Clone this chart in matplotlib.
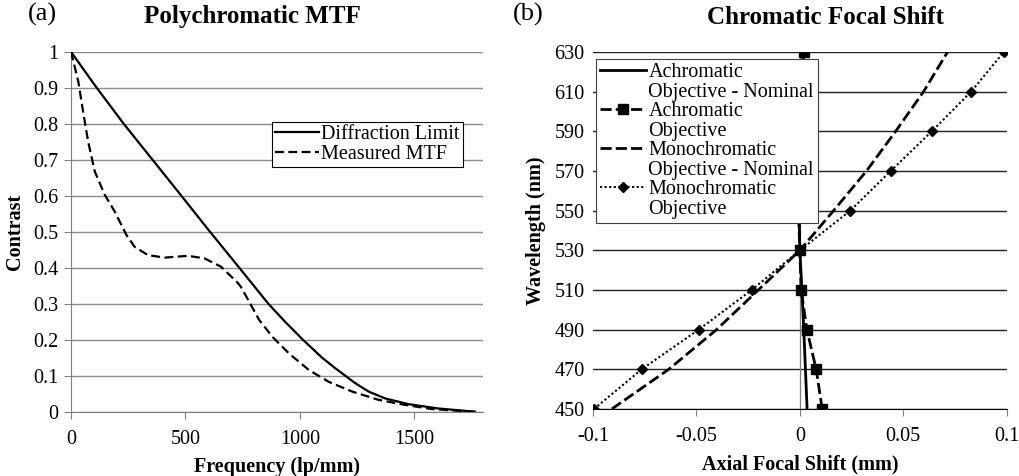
import matplotlib
matplotlib.use("Agg")
import matplotlib.pyplot as plt
from matplotlib.lines import Line2D

plt.rcParams['font.family'] = ['Liberation Serif', 'DejaVu Serif']

# ---- Panel (a) data ----
freq_diff = [0, 50, 112, 230, 356, 482, 607, 735, 862, 935, 1013, 1097, 1150, 1194, 1240, 1300,
             1372, 1474, 1604, 1764]
mtf_diff = [1.0, 0.955, 0.9, 0.8, 0.7, 0.6, 0.5, 0.4, 0.3, 0.25, 0.2, 0.15, 0.123, 0.102, 0.08,
            0.056, 0.037, 0.021, 0.009, 0.0]

freq_meas = [0, 32, 53, 75, 104, 148, 191, 242, 278, 336, 409, 510, 583, 655, 727, 742, 778, 822, 880,
             952, 1039, 1126, 1228, 1343, 1459, 1575, 1706, 1770]
mtf_meas = [1.0, 0.917, 0.833, 0.75, 0.667, 0.602, 0.556, 0.491, 0.458, 0.435, 0.428, 0.433, 0.426,
            0.403, 0.359, 0.347, 0.306, 0.255, 0.208, 0.162, 0.116, 0.083, 0.056, 0.033, 0.019,
            0.0075, 0.002, 0.0]

# ---- Panel (b) data ----
wavelength = [450, 470, 490, 510, 530, 550, 570, 590, 610, 630]
achro_nominal = [0.0035, 0.0027, 0.0019, 0.001, 0.0, -0.0004, -0.0004, 0.0, 0.0009, 0.0017]
achro_meas = [0.0108, 0.0079, 0.0034, 0.0006, 0.0, -0.0007, -0.0005, -0.0002, 0.0014, 0.0018]
mono_nominal = [-0.0909, -0.0634, -0.0403, -0.0201, 0.0, 0.0163, 0.0322, 0.0463, 0.0598, 0.0714]
mono_meas = [-0.0995, -0.0765, -0.0489, -0.0233, 0.0, 0.0244, 0.0439, 0.0638, 0.0828, 0.0986]

W, H = 1020, 476
fig = plt.figure(figsize=(W / 100, H / 100), dpi=100)

def fx(px):
    return px / W

def fy(py):
    return 1 - py / H

FS = 14.5

# ---------------- Panel (a) ----------------
ax1 = fig.add_axes([fx(71), fy(411.7), fx(483 - 71), (411.7 - 51.7) / H])
ax1.set_xlim(0, 1800)
ax1.set_ylim(0, 1)
ax1.set_xticks([0, 500, 1000, 1500])
ax1.set_yticks([i / 10 for i in range(11)])
ax1.set_yticklabels(['0', '0.1', '0.2', '0.3', '0.4', '0.5', '0.6', '0.7', '0.8', '0.9', '1'])
ax1.yaxis.grid(True, color='#8c8c8c', lw=1.0)
ax1.set_axisbelow(True)
for s in ['top', 'right']:
    ax1.spines[s].set_visible(False)
ax1.spines['left'].set_color('#7f7f7f')
ax1.spines['bottom'].set_color('#7f7f7f')
ax1.tick_params(axis='both', direction='out', length=5, color='#7f7f7f', labelsize=FS, pad=4)
ax1.tick_params(axis='x', pad=8)

ax1.plot(freq_diff, mtf_diff, color='black', lw=1.6, label='Diffraction Limit', zorder=3,
         solid_joinstyle='round')
ax1.plot(freq_meas, mtf_meas, color='black', lw=1.6, dashes=(4, 2), label='Measured MTF', zorder=3,
         dash_joinstyle='round')

leg1 = ax1.legend(loc='upper left', bbox_to_anchor=((272 - 71) / (483 - 71), (411.7 - 121.7) / 360),
                  frameon=True, fancybox=False, edgecolor='black', framealpha=1,
                  fontsize=FS, handlelength=2.2, handletextpad=0.1, borderpad=0.15,
                  labelspacing=0.05, borderaxespad=0)
leg1.get_frame().set_linewidth(0.8)

ax1.set_xlabel('Frequency (lp/mm)', fontsize=FS, fontweight='bold', labelpad=6)
ax1.set_ylabel('Contrast', fontsize=FS, fontweight='bold', labelpad=6)

fig.text(fx(252), fy(17), 'Polychromatic MTF', fontsize=18, fontweight='bold', ha='center', va='center')
fig.text(fx(28), fy(14), '(a)', fontsize=19, ha='left', va='center')

# ---------------- Panel (b) ----------------
ax2 = fig.add_axes([fx(593), fy(409), fx(1006.7 - 593), (409 - 52) / H])
ax2.set_xlim(-0.1, 0.1)
ax2.set_ylim(450, 630)
ax2.set_xticks([-0.1, -0.05, 0, 0.05, 0.1])
ax2.set_xticklabels(['-0.1', '-0.05', '0', '0.05', '0.1'])
ax2.set_yticks(wavelength)
ax2.yaxis.grid(True, color='#202020', lw=1.0)
ax2.set_axisbelow(True)
for s in ['top', 'right', 'left']:
    ax2.spines[s].set_visible(False)
ax2.spines['bottom'].set_color('black')
ax2.tick_params(axis='y', length=0, labelsize=FS, pad=6)
ax2.tick_params(axis='x', direction='out', length=5, color='#7f7f7f', labelsize=FS, pad=8)
ax2.axvline(0, color='#7f7f7f', lw=0.9, zorder=1)

h1, = ax2.plot(achro_nominal, wavelength, color='black', lw=2.0, zorder=3)
h2, = ax2.plot(achro_meas, wavelength, color='black', lw=2.0, dashes=(4, 1.5), marker='s',
               markersize=7, zorder=4)
h3, = ax2.plot(mono_nominal, wavelength, color='black', lw=2.0, dashes=(4, 1.5), zorder=3)
h4, = ax2.plot(mono_meas, wavelength, color='black', lw=1.5, linestyle=(0, (1, 1.2)), marker='D',
               markersize=5, zorder=4)

blank = Line2D([], [], linestyle='none')
handles = [h1, blank, h2, blank, h3, blank, h4, blank]
labels = ['Achromatic', 'Objective - Nominal', 'Achromatic', 'Objective',
          'Monochromatic', 'Objective - Nominal', 'Monochromatic', 'Objective']
leg2 = ax2.legend(handles, labels, loc='upper left',
                  bbox_to_anchor=((596 - 593) / (1006.7 - 593), (409 - 59) / 357),
                  frameon=True, fancybox=False, edgecolor='#404040', framealpha=1,
                  fontsize=FS, handlelength=2.3, handletextpad=0.1, borderpad=0.2,
                  labelspacing=0.02, borderaxespad=0)
leg2.get_frame().set_linewidth(0.8)

ax2.set_xlabel('Axial Focal Shift (mm)', fontsize=FS, fontweight='bold', labelpad=6)
ax2.set_ylabel('Wavelength (nm)', fontsize=FS, fontweight='bold', labelpad=6)

fig.text(fx(826), fy(17), 'Chromatic Focal Shift', fontsize=18, fontweight='bold', ha='center', va='center')
fig.text(fx(513), fy(14), '(b)', fontsize=19, ha='left', va='center')

fig.savefig('out.png', dpi=100)
